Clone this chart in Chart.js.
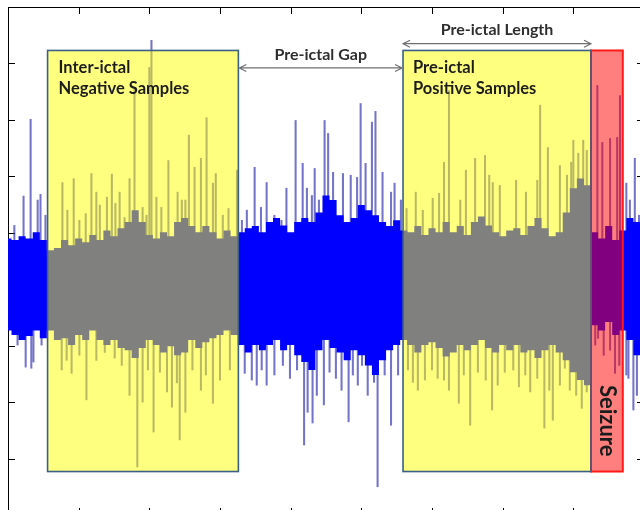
<!DOCTYPE html>
<html>
<head>
<meta charset="utf-8">
<title>EEG segments: inter-ictal, pre-ictal, seizure</title>
<script src="https://cdn.jsdelivr.net/npm/chart.js@4.4.1/dist/chart.umd.min.js"></script>
<style>
  html, body { margin: 0; padding: 0; background: #fff; overflow: hidden; }
  #eeg { display: block; }
</style>
</head>
<body>
<canvas id="eeg" width="660" height="530"></canvas>
<script>
// Axes: time in seconds, amplitude in uV (tick marks only, no labels)
const X_TICKS = [10, 20, 30, 40, 50, 60, 70, 80];
const Y_TICKS = [-300, -200, -100, 0, 100, 200, 300, 400];

// Envelope of the dense background activity, one value per second (0..90 s)
const coreUpper = [
  90, 87, 94, 90, 101, 87, 69, 73, 87, 78,
  90, 83, 96, 87, 104, 94, 108, 119, 140, 119,
  96, 90, 101, 94, 119, 126, 112, 101, 112, 101,
  90, 104, 94, 101, 108, 112, 101, 119, 126, 113,
  101, 119, 126, 119, 136, 166, 158, 131, 119, 126,
  149, 140, 131, 119, 112, 122, 104, 101, 112, 96,
  108, 101, 119, 101, 112, 96, 119, 129, 113, 101,
  94, 104, 108, 96, 112, 126, 108, 94, 101, 136,
  179, 196, 184, 101, 90, 112, 87, 104, 126, 119,
  113,
];
const coreLower = [
  -73, -81, -90, -83, -73, -87, -73, -90, -87, -99,
  -81, -90, -73, -90, -99, -90, -104, -108, -122, -104,
  -90, -99, -112, -101, -117, -112, -90, -104, -94, -87,
  -81, -73, -81, -99, -112, -99, -108, -99, -90, -108,
  -99, -117, -129, -143, -108, -90, -104, -112, -126, -108,
  -117, -135, -152, -126, -108, -99, -90, -99, -112, -99,
  -94, -104, -119, -112, -99, -108, -99, -90, -104, -112,
  -99, -108, -99, -112, -108, -122, -108, -99, -112, -126,
  -147, -161, -170, -64, -73, -58, -81, -73, -90, -117,
  -104,
];

// Sharp transients sticking out of the background: [time s, peak uV]
const spikesUp = [
  [0.9, 113], [2.2, 165], [3.2, 301], [4.2, 158], [4.6, 168], [5.3, 131],
  [7.7, 189], [8.4, 140], [9.3, 196], [10.1, 122], [11.0, 134], [11.8, 205],
  [12.5, 172], [13.0, 149], [14.0, 163], [14.7, 204], [15.2, 152], [15.8, 172],
  [16.5, 127], [17.2, 196], [17.9, 356], [19.05, 145], [19.6, 131], [20.0, 393],
  [20.3, 441], [21.0, 163], [21.7, 145], [22.7, 228], [24.0, 172], [24.6, 158],
  [25.1, 158], [25.6, 273], [26.4, 216], [27.3, 232], [28.1, 304], [29.0, 188],
  [29.4, 205], [30.4, 131], [31.2, 143], [32.4, 211],
  [33.1, 122], [33.8, 140], [34.9, 216], [35.8, 145], [36.6, 189], [37.7, 131],
  [38.7, 122], [39.4, 179], [40.7, 299], [41.7, 223], [42.3, 179], [43.0, 166],
  [43.4, 214], [44.0, 158], [44.8, 299], [45.3, 276], [46.0, 207], [47.4, 205],
  [48.5, 202], [49.4, 198], [49.9, 329], [50.6, 223], [51.5, 296], [52.0, 315],
  [53.0, 207], [54.2, 172], [54.7, 188], [55.6, 158],
  [56.4, 143], [57.7, 172], [58.7, 140], [60.1, 161], [61.0, 170], [61.7, 225],
  [62.4, 352], [64.0, 158], [64.8, 211], [66.1, 232], [67.5, 237], [68.1, 202],
  [68.6, 189], [69.6, 184], [71.9, 193], [73.3, 172], [74.9, 193], [75.3, 326],
  [76.4, 251], [78.1, 219], [79.1, 202], [79.7, 225], [80.0, 264], [80.7, 241],
  [81.4, 264], [81.9, 246],
  [83.4, 361], [84.1, 260], [85.2, 267], [86.2, 269], [86.6, 343],
  [87.5, 188], [88.0, 158], [88.7, 232], [89.3, 131],
];
const spikesDown = [
  [1.35, -99], [2.5, -138], [3.3, -140], [3.6, -129], [4.75, -99],
  [7.6, -143], [8.3, -126], [9.0, -149], [10.1, -117], [11.1, -196], [12.5, -126],
  [13.7, -112], [15.1, -122], [16.1, -135], [17.2, -188], [18.3, -315], [19.05, -200],
  [19.8, -143], [20.6, -253], [21.5, -147], [22.5, -182], [23.2, -209], [23.9, -166],
  [24.3, -267], [25.1, -218], [26.1, -143], [27.3, -179], [28.0, -152], [29.0, -202],
  [30.0, -161], [31.4, -143],
  [33.5, -149], [34.5, -161], [35.2, -170], [35.9, -143], [36.6, -170], [37.7, -152],
  [38.9, -135], [39.9, -158], [40.9, -143], [41.9, -276], [42.4, -218], [43.1, -237],
  [43.7, -188], [44.7, -205], [45.5, -147], [46.4, -158], [47.2, -179], [48.2, -235],
  [48.8, -152], [49.5, -170], [50.1, -135], [50.9, -188], [51.8, -165], [52.3, -350],
  [53.3, -152], [54.2, -241], [55.2, -152],
  [56.6, -143], [57.3, -165], [58.0, -179], [59.0, -161], [60.0, -143], [60.8, -158],
  [61.7, -161], [62.4, -179], [63.8, -202], [64.5, -152], [65.4, -241], [66.5, -147],
  [67.6, -161], [68.5, -214], [69.3, -170], [70.3, -147], [71.5, -143], [72.3, -173],
  [73.2, -152], [73.9, -182], [74.9, -158], [75.9, -246], [76.6, -179], [77.1, -232],
  [78.1, -170], [78.8, -140], [79.5, -179], [80.4, -188], [81.2, -211], [81.9, -182],
  [83.1, -99], [83.5, -87], [84.3, -117], [85.2, -108], [85.9, -149], [86.5, -135],
  [87.5, -152], [87.8, -158], [88.5, -214], [89.0, -188],
];

// Annotated segments [start s, end s] and their vertical extent (uV)
const interictalSeg = [5.6, 32.6];
const preictalSeg = [55.9, 82.5];
const seizureSeg = [82.5, 87.0];
const SEG_TOP = 423;
const SEG_BOTTOM = -323;
// Heights of the two interval arrows (uV)
const GAP_ARROW_Y = 392;
const LENGTH_ARROW_Y = 435;

const TICK_LEN = 7;
const FONT = "Lato, 'Open Sans', sans-serif";
const SPIKE_COLOR = "rgba(30, 30, 170, 0.62)";

const frame = {
  id: "frame",
  beforeDatasetsDraw(chart) {
    const { ctx, chartArea: a, scales } = chart;
    ctx.save();
    ctx.strokeStyle = "#000";
    ctx.lineWidth = 1;
    ctx.strokeRect(a.left + 0.5, a.top + 0.5, a.right - a.left, a.bottom - a.top);
    ctx.beginPath();
    X_TICKS.forEach((t) => {
      const x = Math.round(scales.x.getPixelForValue(t)) + 0.5;
      ctx.moveTo(x, a.top);
      ctx.lineTo(x, a.top + TICK_LEN);
      ctx.moveTo(x, a.bottom);
      ctx.lineTo(x, a.bottom - TICK_LEN);
    });
    Y_TICKS.forEach((v) => {
      const y = Math.round(scales.y.getPixelForValue(v)) + 0.5;
      ctx.moveTo(a.left, y);
      ctx.lineTo(a.left + TICK_LEN, y);
      ctx.moveTo(a.right, y);
      ctx.lineTo(a.right - TICK_LEN, y);
    });
    ctx.stroke();
    ctx.restore();
  },
};

function drawArrow(ctx, x1, x2, y) {
  ctx.beginPath();
  ctx.moveTo(x1, y);
  ctx.lineTo(x2, y);
  ctx.moveTo(x1 + 7, y - 3.5);
  ctx.lineTo(x1, y);
  ctx.lineTo(x1 + 7, y + 3.5);
  ctx.moveTo(x2 - 7, y - 3.5);
  ctx.lineTo(x2, y);
  ctx.lineTo(x2 - 7, y + 3.5);
  ctx.stroke();
}

const annotations = {
  id: "annotations",
  afterDatasetsDraw(chart) {
    const { ctx, scales } = chart;
    const px = (t) => scales.x.getPixelForValue(t);
    const py = (v) => scales.y.getPixelForValue(v);
    const top = py(SEG_TOP);
    const bottom = py(SEG_BOTTOM);

    ctx.save();
    // yellow sample windows
    [interictalSeg, preictalSeg].forEach(([s, e]) => {
      ctx.fillStyle = "rgba(255, 255, 0, 0.5)";
      ctx.fillRect(px(s), top, px(e) - px(s), bottom - top);
    });
    // seizure window
    ctx.fillStyle = "rgba(255, 0, 0, 0.5)";
    ctx.fillRect(px(seizureSeg[0]), top, px(seizureSeg[1]) - px(seizureSeg[0]), bottom - top);
    ctx.strokeStyle = "#ff1a1a";
    ctx.lineWidth = 2;
    ctx.strokeRect(px(seizureSeg[0]), top, px(seizureSeg[1]) - px(seizureSeg[0]), bottom - top);
    ctx.strokeStyle = "#3b5f86";
    ctx.lineWidth = 1.6;
    [interictalSeg, preictalSeg].forEach(([s, e]) => {
      ctx.strokeRect(px(s), top, px(e) - px(s), bottom - top);
    });

    // interval arrows
    ctx.strokeStyle = "#707070";
    ctx.lineWidth = 1.2;
    drawArrow(ctx, px(interictalSeg[1]) + 1, px(preictalSeg[0]) - 1, py(GAP_ARROW_Y));
    drawArrow(ctx, px(preictalSeg[0]), px(preictalSeg[1]), py(LENGTH_ARROW_Y));

    ctx.fillStyle = "#2e2e2e";
    ctx.font = "bold 16px " + FONT;
    ctx.textAlign = "center";
    ctx.textBaseline = "alphabetic";
    ctx.fillText("Pre-ictal Gap", (px(interictalSeg[1]) + px(preictalSeg[0])) / 2, py(GAP_ARROW_Y) - 8);
    ctx.fillText("Pre-ictal Length", (px(preictalSeg[0]) + px(preictalSeg[1])) / 2, py(LENGTH_ARROW_Y) - 9);

    // window captions
    ctx.fillStyle = "#1c1c1c";
    ctx.font = "bold 16.5px " + FONT;
    ctx.textAlign = "left";
    ctx.fillText("Inter-ictal", px(interictalSeg[0]) + 11, top + 23);
    ctx.fillText("Negative Samples", px(interictalSeg[0]) + 11, top + 44);
    ctx.fillText("Pre-ictal", px(preictalSeg[0]) + 10, top + 23);
    ctx.fillText("Positive Samples", px(preictalSeg[0]) + 10, top + 44);

    ctx.translate(px(seizureSeg[0]) + 9, py(-233));
    ctx.rotate(Math.PI / 2);
    ctx.font = "bold 22px " + FONT;
    ctx.textAlign = "center";
    ctx.fillText("Seizure", 0, 0);
    ctx.restore();
  },
};

const toBars = (list) => list.map(([t, v]) => ({ x: t, y: [0, v] }));
const seconds = coreUpper.map((_, i) => i);

new Chart(document.getElementById("eeg"), {
  type: "line",
  data: {
    datasets: [
      {
        label: "background upper",
        data: seconds.map((t) => ({ x: t, y: coreUpper[t] })),
        borderWidth: 0,
        pointRadius: 0,
        stepped: "middle",
        backgroundColor: "#0000ff",
        fill: "+1",
      },
      {
        label: "background lower",
        data: seconds.map((t) => ({ x: t, y: coreLower[t] })),
        borderWidth: 0,
        pointRadius: 0,
        stepped: "middle",
        fill: false,
      },
      {
        type: "bar",
        label: "spikes up",
        data: toBars(spikesUp),
        backgroundColor: SPIKE_COLOR,
        barThickness: 1.4,
        grouped: false,
      },
      {
        type: "bar",
        label: "spikes down",
        data: toBars(spikesDown),
        backgroundColor: SPIKE_COLOR,
        barThickness: 1.4,
        grouped: false,
      },
    ],
  },
  options: {
    responsive: false,
    animation: false,
    devicePixelRatio: 1,
    layout: { padding: { left: 8, top: 7, right: 16, bottom: 15 } },
    plugins: { legend: { display: false }, tooltip: { enabled: false } },
    scales: {
      x: { type: "linear", min: 0, max: 90, offset: false, display: false },
      y: { type: "linear", min: -400, max: 500, display: false },
    },
  },
  plugins: [frame, annotations],
});
</script>
</body>
</html>
